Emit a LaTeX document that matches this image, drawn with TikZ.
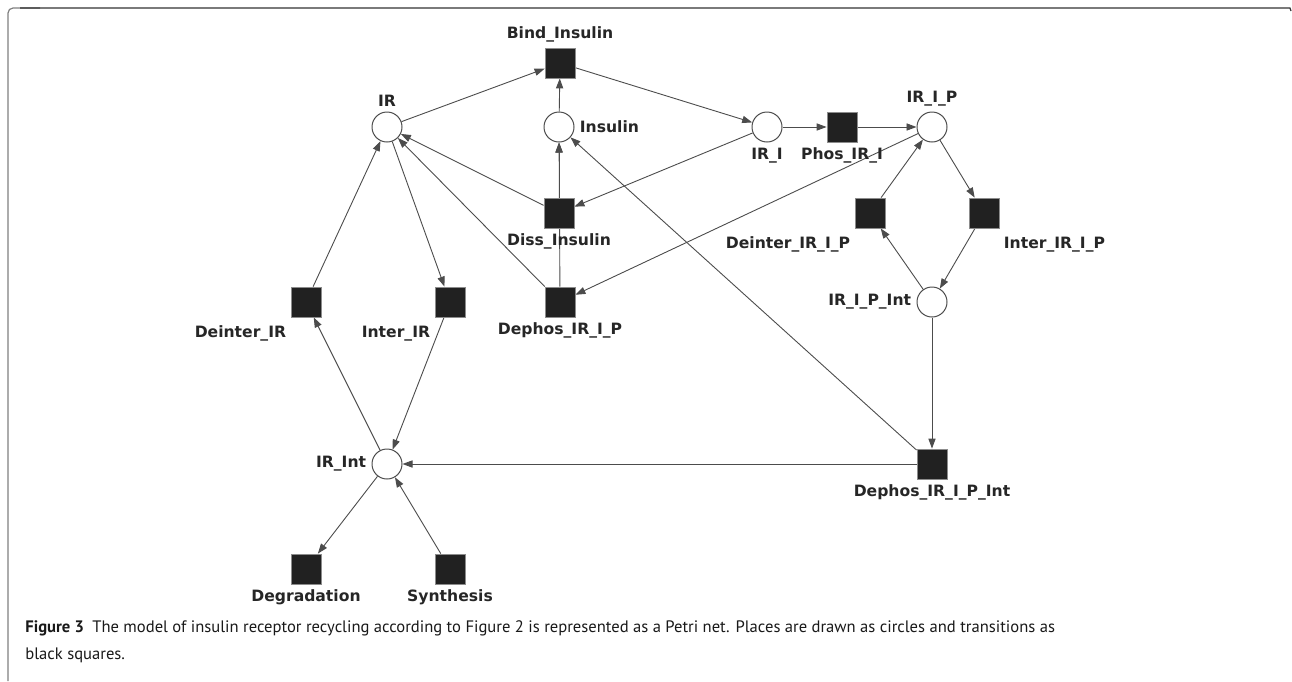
\documentclass[tikz,border=0pt]{standalone}
\usepackage{fontspec}
\setmainfont{PT Sans}
\newfontfamily\lblfont{DejaVu Sans}
\usetikzlibrary{arrows.meta}

\begin{document}
\begin{tikzpicture}[x=0.5pt,y=-0.5pt]
    \tikzstyle{place} = [draw=black!70,fill=white,shape=circle,minimum size=15pt,inner sep=0pt,line width=0.5pt]
\tikzstyle{trans} = [draw=black!45,fill=black!87,shape=rectangle,minimum size=15pt,inner sep=0pt,line width=0.4pt]
\tikzstyle{arc} = [draw=black!70,line width=0.45pt,-{Triangle[length=5pt,width=3.6pt]}]

\tikzstyle{every label} = [font=\lblfont\bfseries\fontsize{7.8}{9}\selectfont,text=black!85,inner sep=1pt,label distance=1.5pt]

\pgfdeclarelayer{background}
\pgfsetlayers{background,main}

\useasboundingbox (0,0) rectangle (1292,681);

% frame
\draw[black!50,line width=0.6pt,rounded corners=2.5pt] (40,8) -- (8,8) -- (8,681);
\draw[black!80,line width=0.6pt] (20,8) -- (1290,8) -- (1291,11);

% places
\node[place,label=above:IR] (ir) at (387,127) {};
\node[place,label=right:Insulin] (ins) at (559,127) {};
\node[place,label=below:IR\_I] (iri) at (767,127) {};
\node[place,label=above:IR\_I\_P] (irip) at (932,127) {};
\node[place,label=left:IR\_I\_P\_Int] (iripint) at (932,302) {};
\node[place,label=left:IR\_Int] (irint) at (387,464) {};

% transitions
\node[trans,label=above:Bind\_Insulin] (bind) at (560,63) {};
\node[trans,label=below:Phos\_IR\_I] (phos) at (842,127) {};
\node[trans,label=below:Diss\_Insulin] (diss) at (559,213) {};
\node[trans,label={[yshift=-2pt]below left:Deinter\_IR\_I\_P}] (deintirip) at (870,213) {};
\node[trans,label={[yshift=-2pt]below right:Inter\_IR\_I\_P}] (intirip) at (984,213) {};
\node[trans,label={[yshift=-2pt]below left:Deinter\_IR}] (deintir) at (306,302) {};
\node[trans,label={[yshift=-2pt]below left:Inter\_IR}] (intir) at (450,302) {};
\node[trans,label=below:Dephos\_IR\_I\_P] (dephos) at (560,302) {};
\node[trans,label=below:Dephos\_IR\_I\_P\_Int] (dephosint) at (932,464) {};
\node[trans,label=below:Degradation] (degr) at (306,569) {};
\node[trans,label=below:Synthesis] (synth) at (450,569) {};

\begin{pgfonlayer}{background}
\draw[arc] (ir) -- (bind);
\draw[arc] (ins) -- (bind);
\draw[arc] (bind) -- (iri);
\draw[arc] (iri) -- (phos);
\draw[arc] (phos) -- (irip);
\draw[arc] (iri) -- (diss);
\draw[arc] (diss) -- (ir);
\draw[arc] (diss) -- (ins);
\draw[arc] (dephos) -- (ins);
\draw[arc] (dephos) -- (ir);
\draw[arc] (irip) -- (dephos);
\draw[arc] (irip) -- (intirip);
\draw[arc] (intirip) -- (iripint);
\draw[arc] (iripint) -- (deintirip);
\draw[arc] (deintirip) -- (irip);
\draw[arc] (iripint) -- (dephosint);
\draw[arc] (dephosint) -- (ins);
\draw[arc] (dephosint) -- (irint);
\draw[arc] (ir) -- (intir);
\draw[arc] (intir) -- (irint);
\draw[arc] (irint) -- (deintir);
\draw[arc] (deintir) -- (ir);
\draw[arc] (irint) -- (degr);
\draw[arc] (synth) -- (irint);
\end{pgfonlayer}

% caption
\node[anchor=base west,inner sep=0pt,align=left,font=\fontsize{8.3}{13.5}\selectfont,text=black!90] (caption) at (25,659)
  {\textbf{Figure 3}\enspace The model of insulin receptor recycling according to Figure 2 is represented as a Petri net. Places are drawn as circles and transitions as\\black squares.};
\end{tikzpicture}
\end{document}
